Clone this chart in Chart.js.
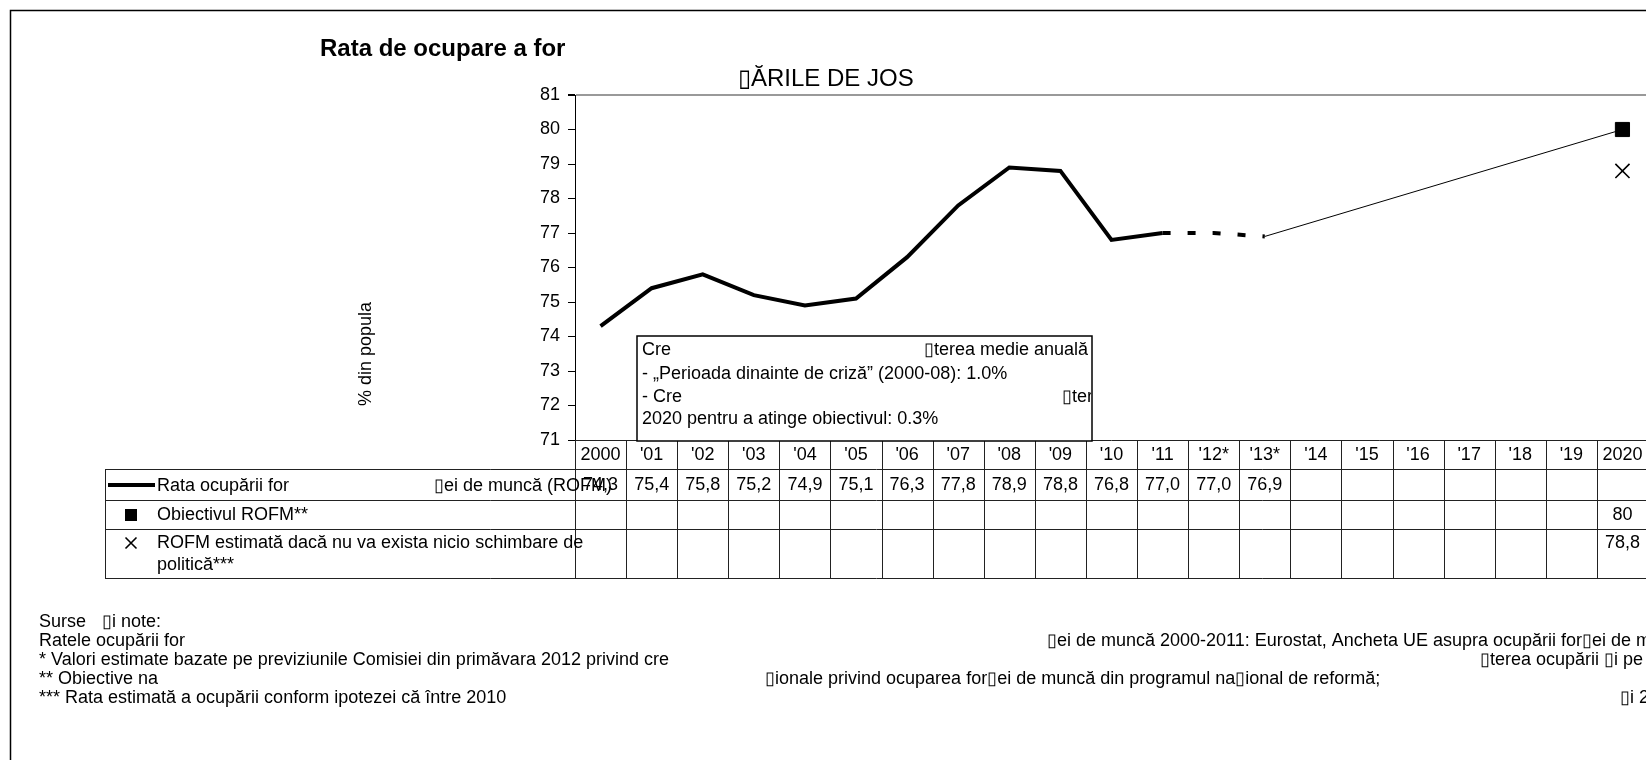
<!DOCTYPE html>
<html>
<head>
<meta charset="utf-8">
<script src="https://cdn.jsdelivr.net/npm/chart.js@4.4.1/dist/chart.umd.min.js"></script>
<style>
    html, body { margin: 0; padding: 0; background: #fff; overflow: hidden; }
    #wrap { position: absolute; left: 0; top: 0; width: 1700px; height: 800px; }
</style>
</head>
<body>
<div id="wrap"><canvas id="myChart" width="1700" height="800"></canvas></div>
<script>
// missing glyph as it appears in the source document
const TOFU = '\u25AF';

const years = ['2000', "'01", "'02", "'03", "'04", "'05", "'06", "'07", "'08", "'09", "'10",
    "'11", "'12*", "'13*", "'14", "'15", "'16", "'17", "'18", "'19", '2020'];
const employmentRate = [74.3, 75.4, 75.8, 75.2, 74.9, 75.1, 76.3, 77.8, 78.9, 78.8, 76.8,
    77.0, 77.0, 76.9, null, null, null, null, null, null, null];
const lastActualIndex = 11; // '12* and '13* are estimates
const targetRate = [null, null, null, null, null, null, null, null, null, null, null,
    null, null, null, null, null, null, null, null, null, 80];
const noChangeRate = [null, null, null, null, null, null, null, null, null, null, null,
    null, null, null, null, null, null, null, null, null, 78.8];
const pathToTarget = [null, null, null, null, null, null, null, null, null, null, null,
    null, null, 76.9, null, null, null, null, null, null, 80];
const yMin = 71;
const yMax = 81;

const rowLabels = {
    rate: ['Rata ocupării for', TOFU + 'ei de muncă (ROFM)'],
    target: 'Obiectivul ROFM**',
    noChange: ['ROFM estimată dacă nu va exista nicio schimbare de', 'politică***'],
};

const FONT = '"Liberation Sans", Arial, sans-serif';

function fmt(v, fixed) {
    if (v === null) return '';
    return (fixed ? v.toFixed(1) : String(v)).replace('.', ',');
}

function drawSquare(ctx, x, y, s) {
    ctx.fillStyle = '#000';
    ctx.fillRect(x - s / 2, y - s / 2, s, s);
}

function drawCross(ctx, x, y, s) {
    ctx.strokeStyle = '#000';
    ctx.lineWidth = 1.6;
    ctx.beginPath();
    ctx.moveTo(x - s / 2, y - s / 2);
    ctx.lineTo(x + s / 2, y + s / 2);
    ctx.moveTo(x + s / 2, y - s / 2);
    ctx.lineTo(x - s / 2, y + s / 2);
    ctx.stroke();
}

const pagePlugin = {
    id: 'page',
    afterDraw(chart) {
        const ctx = chart.ctx;
        const area = chart.chartArea;
        const xs = chart.scales.x;
        const colW = (area.right - area.left) / years.length;
        ctx.save();

        // outer frame
        ctx.strokeStyle = '#000';
        ctx.lineWidth = 1.5;
        ctx.strokeRect(10.5, 10.5, 1800, 900);

        // titles
        ctx.fillStyle = '#000';
        ctx.textBaseline = 'middle';
        ctx.textAlign = 'left';
        ctx.font = 'bold 24px ' + FONT;
        ctx.fillText('Rata de ocupare a for', 320, 49);
        ctx.font = '24px ' + FONT;
        ctx.fillText(TOFU + 'ĂRILE DE JOS', 738, 79);

        // y axis title
        ctx.save();
        ctx.translate(366, 354);
        ctx.rotate(-Math.PI / 2);
        ctx.textAlign = 'center';
        ctx.font = '18px ' + FONT;
        ctx.fillText('% din popula', 0, 0);
        ctx.restore();

        // data table
        const top = area.bottom;
        const rowY = [top, top + 29, top + 60, top + 89, top + 138];
        const tableLeft = 105;
        ctx.strokeStyle = '#222';
        ctx.lineWidth = 1;
        ctx.beginPath();
        ctx.moveTo(area.left, rowY[0] + 0.5);
        ctx.lineTo(area.right, rowY[0] + 0.5);
        for (let r = 1; r < rowY.length; r++) {
            ctx.moveTo(tableLeft, rowY[r] + 0.5);
            ctx.lineTo(area.right, rowY[r] + 0.5);
        }
        for (let i = 0; i <= years.length; i++) {
            const bx = Math.round(area.left + i * colW) + 0.5;
            ctx.moveTo(bx, rowY[0]);
            ctx.lineTo(bx, rowY[4]);
        }
        ctx.moveTo(tableLeft + 0.5, rowY[1]);
        ctx.lineTo(tableLeft + 0.5, rowY[4]);
        ctx.stroke();

        ctx.font = '18px ' + FONT;
        ctx.textAlign = 'center';
        ctx.fillStyle = '#000';
        years.forEach((label, i) => {
            const cx = xs.getPixelForValue(i);
            ctx.fillText(label, cx, rowY[0] + 15);
            ctx.fillText(fmt(employmentRate[i], true), cx, rowY[1] + 16);
            ctx.fillText(fmt(targetRate[i], false), cx, rowY[2] + 15);
            ctx.fillText(fmt(noChangeRate[i], false), cx, rowY[3] + 14);
        });

        // row legend
        ctx.textAlign = 'left';
        ctx.strokeStyle = '#000';
        ctx.lineWidth = 4;
        ctx.beginPath();
        ctx.moveTo(108, rowY[1] + 16);
        ctx.lineTo(155, rowY[1] + 16);
        ctx.stroke();
        ctx.fillText(rowLabels.rate[0], 157, rowY[1] + 17);
        ctx.fillText(rowLabels.rate[1], 434, rowY[1] + 17);
        drawSquare(ctx, 131, rowY[2] + 15, 12);
        ctx.fillText(rowLabels.target, 157, rowY[2] + 15);
        drawCross(ctx, 131, rowY[3] + 14, 11);
        ctx.fillText(rowLabels.noChange[0], 157, rowY[3] + 14);
        ctx.fillText(rowLabels.noChange[1], 157, rowY[3] + 36);

        // growth note box
        const bx = 637, by = 336, bw = 455, bh = 105;
        ctx.fillStyle = '#fff';
        ctx.fillRect(bx, by, bw, bh);
        ctx.strokeStyle = '#000';
        ctx.lineWidth = 1.5;
        ctx.strokeRect(bx, by, bw, bh);
        ctx.save();
        ctx.beginPath();
        ctx.rect(bx, by, bw - 1, bh);
        ctx.clip();
        ctx.fillStyle = '#000';
        ctx.font = '18px ' + FONT;
        ctx.fillText('Cre', 642, 350);
        ctx.fillText(TOFU + 'terea medie anuală', 924, 350);
        ctx.fillText('- „Perioada dinainte de criză” (2000-08): 1.0%', 642, 374);
        ctx.fillText('- Cre', 642, 397);
        ctx.fillText(TOFU + 'ter', 1062, 397);
        ctx.fillText('2020 pentru a atinge obiectivul: 0.3%', 642, 419);
        ctx.restore();

        // sources and notes
        ctx.fillStyle = '#000';
        ctx.font = '18px ' + FONT;
        const notes = [
            [[39, 'Surse'], [102, TOFU + 'i note:']],
            [[39, 'Ratele ocupării for'], [1047, TOFU + 'ei de muncă 2000-2011: Eurostat, Ancheta UE asupra ocupării for' + TOFU + 'ei de m']],
            [[39, '* Valori estimate bazate pe previziunile Comisiei din primăvara 2012 privind cre'], [1480, TOFU + 'terea ocupării ' + TOFU + 'i pe']],
            [[39, '** Obiective na'], [765, TOFU + 'ionale privind ocuparea for' + TOFU + 'ei de muncă din programul na' + TOFU + 'ional de reformă;']],
            [[39, '*** Rata estimată a ocupării conform ipotezei că între 2010'], [1620, TOFU + 'i 2']],
        ];
        notes.forEach((line, i) => {
            line.forEach(([nx, text]) => ctx.fillText(text, nx, 622 + i * 19));
        });

        ctx.restore();
    }
};

const solidRate = employmentRate.map((v, i) => (i <= lastActualIndex ? v : null));
const estimateRate = employmentRate.map((v, i) => (i >= lastActualIndex ? v : null));

new Chart(document.getElementById('myChart'), {
    type: 'line',
    data: {
        labels: years,
        datasets: [
            {
                label: 'path',
                data: pathToTarget,
                borderColor: '#000',
                borderWidth: 1,
                pointRadius: 0,
                spanGaps: true,
            },
            {
                label: 'Rata ocupării forței de muncă (ROFM)',
                data: solidRate,
                borderColor: '#000',
                borderWidth: 4,
                pointRadius: 0,
                tension: 0,
            },
            {
                label: 'estimate',
                data: estimateRate,
                borderColor: '#000',
                borderWidth: 4,
                borderDash: [8, 17],
                pointRadius: 0,
            },
            {
                label: 'Obiectivul ROFM**',
                data: targetRate,
                showLine: false,
                pointStyle: 'rect',
                pointRadius: 10,
                backgroundColor: '#000',
                borderColor: '#000',
            },
            {
                label: 'ROFM estimată',
                data: noChangeRate,
                showLine: false,
                pointStyle: 'crossRot',
                pointRadius: 10,
                borderWidth: 1.6,
                borderColor: '#000',
            },
        ]
    },
    options: {
        responsive: false,
        animation: false,
        events: [],
        layout: {
            padding: { left: 505, top: 95, right: 52, bottom: 360 }
        },
        plugins: {
            legend: { display: false },
            tooltip: { enabled: false },
        },
        scales: {
            x: {
                type: 'category',
                display: false,
                offset: true,
            },
            y: {
                min: yMin,
                max: yMax,
                afterFit: scale => { scale.width = 70; },
                ticks: {
                    stepSize: 1,
                    color: '#000',
                    padding: 8,
                    font: { family: FONT, size: 18 },
                },
                grid: {
                    color: c => (c.tick && c.tick.value === yMax ? '#999' : 'rgba(0,0,0,0)'),
                    lineWidth: c => (c.tick && c.tick.value === yMax ? 2 : 1),
                    tickColor: '#000',
                    tickLength: 7,
                },
                border: { color: '#000', width: 1 },
            }
        }
    },
    plugins: [pagePlugin]
});
</script>
</body>
</html>
